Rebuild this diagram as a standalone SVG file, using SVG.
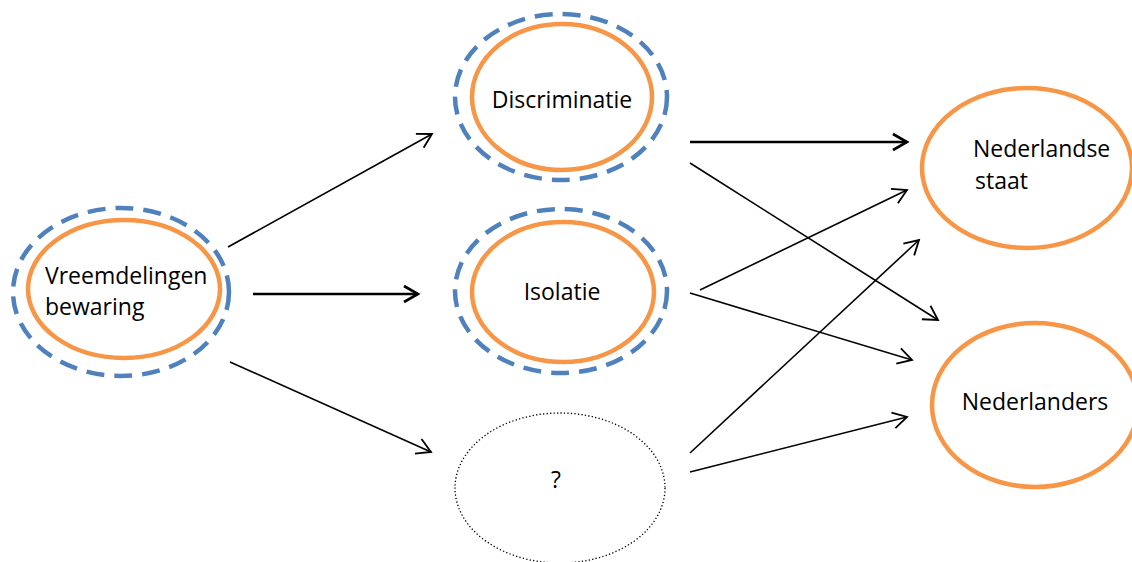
<svg xmlns="http://www.w3.org/2000/svg" width="1132" height="562" viewBox="0 0 1132 562">
<style>
.o{fill:none;stroke:#F79646;stroke-width:4.5}
.b{fill:none;stroke:#4F81BD;stroke-width:4.5;stroke-dasharray:18 10}
.d{fill:none;stroke:#000;stroke-width:1.3;stroke-dasharray:1.3 2.2}
.t{font-family:"Open Sans",Lato,sans-serif;font-size:23px;fill:#000}
.c{fill:none;stroke:#000;stroke-width:1.6}
.k{fill:none;stroke:#000;stroke-width:2.6}
</style>
<defs>
<marker id="a" markerUnits="userSpaceOnUse" markerWidth="20" markerHeight="20" refX="16" refY="9" orient="auto" viewBox="0 0 20 18">
<path d="M2,1 L16,9 L2,17" fill="none" stroke="#000" stroke-width="1.8"/>
</marker>
<marker id="a2" markerUnits="userSpaceOnUse" markerWidth="20" markerHeight="20" refX="16" refY="9" orient="auto" viewBox="0 0 20 18">
<path d="M2,1 L16,9 L2,17" fill="none" stroke="#000" stroke-width="2.6"/>
</marker>
</defs>
<g id="connectors">
<line class="c" x1="228" y1="247" x2="432" y2="134" marker-end="url(#a)"/>
<line class="k" x1="253" y1="294" x2="418" y2="294" marker-end="url(#a2)"/>
<line class="c" x1="230" y1="362" x2="431" y2="452" marker-end="url(#a)"/>
<line class="k" x1="690" y1="142" x2="907" y2="142" marker-end="url(#a2)"/>
<line class="c" x1="690" y1="163" x2="938" y2="320" marker-end="url(#a)"/>
<line class="c" x1="700" y1="290" x2="907" y2="190" marker-end="url(#a)"/>
<line class="c" x1="690" y1="293" x2="912" y2="360" marker-end="url(#a)"/>
<line class="c" x1="690" y1="453" x2="919" y2="240" marker-end="url(#a)"/>
<line class="c" x1="690" y1="472" x2="907" y2="417" marker-end="url(#a)"/>
</g>
<g id="vreemdelingenbewaring">
<ellipse class="b" cx="121" cy="292" rx="108" ry="84"/>
<ellipse class="o" cx="124" cy="289" rx="96" ry="69"/>
<text class="t" x="45" y="284">Vreemdelingen</text>
<text class="t" x="45" y="315">bewaring</text>
</g>
<g id="discriminatie">
<ellipse class="b" cx="561" cy="97" rx="106" ry="83"/>
<ellipse class="o" cx="562" cy="97" rx="90" ry="73"/>
<text class="t" x="562" y="108" text-anchor="middle">Discriminatie</text>
</g>
<g id="isolatie">
<ellipse class="b" cx="561" cy="291" rx="106" ry="82"/>
<ellipse class="o" cx="563" cy="292" rx="91" ry="70"/>
<text class="t" x="562" y="300" text-anchor="middle">Isolatie</text>
</g>
<g id="onbekend">
<ellipse class="d" cx="560" cy="488" rx="105" ry="75"/>
<text class="t" x="556" y="488" text-anchor="middle">?</text>
</g>
<g id="nederlandse-staat">
<ellipse class="o" cx="1027" cy="168" rx="105" ry="80"/>
<text class="t" x="973" y="157">Nederlandse</text>
<text class="t" x="975" y="189">staat</text>
</g>
<g id="nederlanders">
<ellipse class="o" cx="1035" cy="405" rx="103" ry="82"/>
<text class="t" x="1035" y="410" text-anchor="middle">Nederlanders</text>
</g>
</svg>
